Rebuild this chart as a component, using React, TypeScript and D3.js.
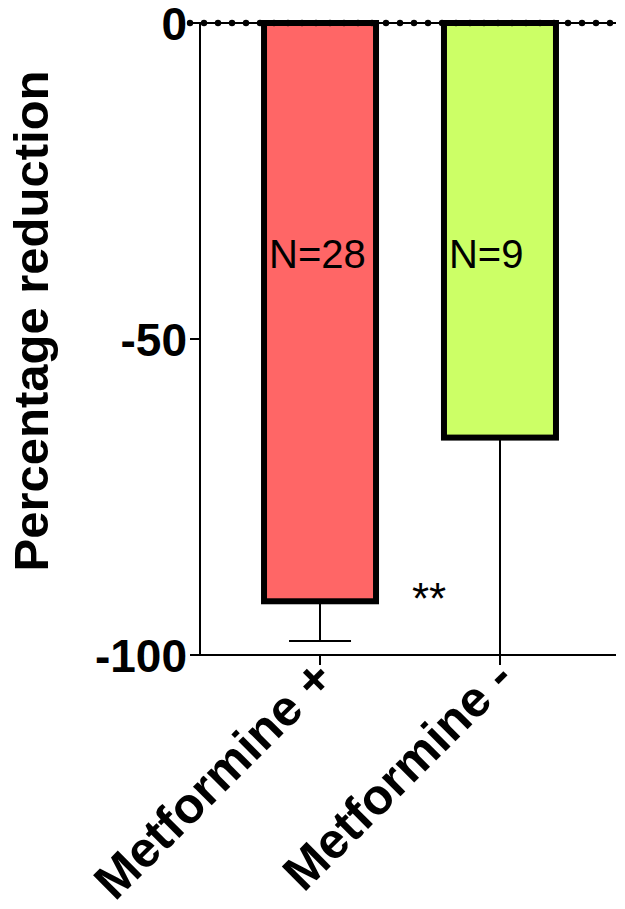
import React from "react";
import * as d3 from "d3";

const categories = ["Metformine +", "Metformine -"];
const means = [-91.5, -65.6];
const errors = [6.3, 40];
const nLabels = ["N=28", "N=9"];
const colors = ["#FF6666", "#CCFF66"];
const yTicks = [0, -50, -100];
const yTitle = "Percentage reduction";
const sigLabel = "**";

const W = 625;
const H = 909;
const FONT = "'Liberation Sans', Arial, Helvetica, sans-serif";

export default function App() {
  const y = d3.scaleLinear().domain([0, -100]).range([23, 655]);
  const x = d3.scalePoint<string>().domain(categories).range([200, 620]).padding(0.667);
  const barW = 112;
  const y0 = y(0);
  const yMin = y(-100);
  const dots = d3.range(190, 616, 14);

  return (
    <svg width={W} height={H} style={{ position: "absolute", left: 0, top: 0, background: "#fff" }}>
      {/* error bars */}
      {categories.map((c, i) => {
        const cx = x(c)!;
        const lo = Math.max(-100, means[i] - errors[i]);
        const clipped = means[i] - errors[i] < -100;
        return (
          <g key={"e" + c}>
            <line x1={cx} x2={cx} y1={y(means[i])} y2={y(lo)} stroke="#000" strokeWidth={2} />
            {!clipped && (
              <line x1={cx - 31} x2={cx + 31} y1={y(lo)} y2={y(lo)} stroke="#000" strokeWidth={2} />
            )}
          </g>
        );
      })}
      {/* bars */}
      {categories.map((c, i) => {
        const cx = x(c)!;
        return (
          <rect
            key={"b" + c}
            x={cx - barW / 2}
            y={y0}
            width={barW}
            height={y(means[i]) - y0}
            fill={colors[i]}
            stroke="#000"
            strokeWidth={6}
          />
        );
      })}
      {/* N labels */}
      {categories.map((c, i) => (
        <text
          key={"n" + c}
          x={x(c)! - barW / 2 + 5}
          y={268}
          fontFamily={FONT}
          fontSize={40}
          fill="#000"
        >
          {nLabels[i]}
        </text>
      ))}
      {/* zero dotted line */}
      <line x1={190} x2={616} y1={y0} y2={y0} stroke="#000" strokeWidth={2} />
      {dots.map((d) => (
        <circle key={"d" + d} cx={d} cy={y0} r={3.2} fill="#000" />
      ))}
      {/* y axis */}
      <line x1={200} x2={200} y1={y0} y2={yMin} stroke="#000" strokeWidth={2} />
      {yTicks.map((t) => (
        <g key={"t" + t}>
          <line x1={190} x2={200} y1={y(t)} y2={y(t)} stroke="#000" strokeWidth={2} />
          <text
            x={187}
            y={y(t)}
            dy="0.36em"
            textAnchor="end"
            fontFamily={FONT}
            fontWeight="bold"
            fontSize={46}
            fill="#000"
          >
            {t}
          </text>
        </g>
      ))}
      {/* x axis */}
      <line x1={199} x2={616} y1={yMin} y2={yMin} stroke="#000" strokeWidth={2} />
      {categories.map((c) => (
        <g key={"x" + c}>
          <line x1={x(c)!} x2={x(c)!} y1={yMin} y2={yMin + 10} stroke="#000" strokeWidth={2} />
          <text
            transform={`translate(${x(c)! + 16},${yMin + 26}) rotate(-45)`}
            textAnchor="end"
            fontFamily={FONT}
            fontWeight="bold"
            fontSize={50}
            fill="#000"
          >
            {c}
          </text>
        </g>
      ))}
      {/* significance */}
      <text
        x={x(categories[0])! + 109}
        y={614}
        textAnchor="middle"
        fontFamily={FONT}
        fontSize={44}
        fill="#000"
      >
        {sigLabel}
      </text>
      {/* y title */}
      <text
        transform={`translate(48,321) rotate(-90)`}
        textAnchor="middle"
        fontFamily={FONT}
        fontWeight="bold"
        fontSize={49}
        fill="#000"
      >
        {yTitle}
      </text>
    </svg>
  );
}
